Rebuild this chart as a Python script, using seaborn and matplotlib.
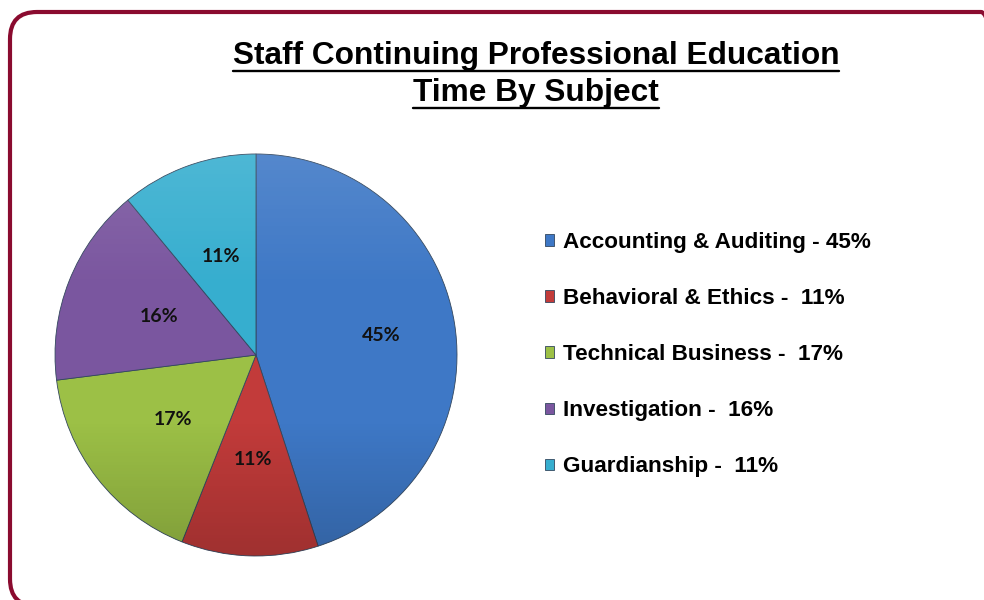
import matplotlib
matplotlib.use('Agg')
import numpy as np
import matplotlib.pyplot as plt
import seaborn as sns
from matplotlib.patches import FancyBboxPatch, Circle
from matplotlib.lines import Line2D
from matplotlib.colors import LinearSegmentedColormap

# data
subjects = ['Accounting & Auditing', 'Behavioral & Ethics', 'Technical Business',
            'Investigation', 'Guardianship']
shares = [45, 11, 17, 16, 11]
legend_labels = ['Accounting & Auditing - 45%', 'Behavioral & Ethics -  11%',
                 'Technical Business -  17%', 'Investigation -  16%', 'Guardianship -  11%']
slice_colors = ['#3e78c6', '#c23b3a', '#9cc046', '#7a569f', '#36aecf']
title_lines = ['Staff Continuing Professional Education', 'Time By Subject']

sns.set_theme(style='white')
plt.rcParams['font.family'] = ['Liberation Sans', 'DejaVu Sans']
plt.rcParams['text.color'] = 'black'
palette = sns.color_palette(slice_colors)

W, H = 984, 600
fig = plt.figure(figsize=(W / 100, H / 100), dpi=100)
fig.patch.set_facecolor('white')

# rounded maroon frame (runs past right/bottom edges)
frame = FancyBboxPatch((10 / 100, -6 / 100), 998 / 100, 594 / 100,
                       boxstyle='round,pad=0,rounding_size=0.27',
                       transform=fig.dpi_scale_trans, fill=False,
                       edgecolor='#8a0b2f', linewidth=3.0, zorder=0)
fig.patches.append(frame)

# pie
cx, cy, r = 256, 355, 201
ax = fig.add_axes([(cx - r) / W, (H - cy - r) / H, 2 * r / W, 2 * r / H])
wedges, texts, autotexts = ax.pie(
    shares, colors=palette, startangle=90, counterclock=False,
    autopct=lambda p: f'{p:.0f}%', pctdistance=0.52,
    wedgeprops=dict(edgecolor='#33475e', linewidth=0.6),
    textprops=dict(family=['Lato', 'DejaVu Sans'], weight='bold', size=14, color='#111111'))
ax.set_aspect('equal')
ax.axis('off')

# soft top-light / bottom-dark shading over the pie
shade = LinearSegmentedColormap.from_list(
    'shade', [(0, 0, 0, 0.18), (0, 0, 0, 0.0), (1, 1, 1, 0.0), (1, 1, 1, 0.12)])
grad = np.linspace(0, 1, 256).reshape(-1, 1)
img = ax.imshow(grad, cmap=shade, extent=(-1, 1, -1, 1), origin='lower',
                aspect='auto', zorder=2, interpolation='bilinear')
img.set_clip_path(Circle((0, 0), 1, transform=ax.transData))
for t in autotexts:
    t.set_zorder(3)

# the big slice carries its label further out
w0 = wedges[0]
mid = np.deg2rad((w0.theta1 + w0.theta2) / 2)
autotexts[0].set_position((0.63 * np.cos(mid), 0.63 * np.sin(mid)))
ax.set_xlim(-1, 1)
ax.set_ylim(-1, 1)

# legend
leg = fig.legend(wedges, legend_labels, loc='upper left',
                 bbox_to_anchor=(545 / W, 1 - 232 / H), frameon=False,
                 prop=dict(family='Liberation Sans', weight='bold', size=16.2),
                 handlelength=0.4, handleheight=0.4, handletextpad=0.4,
                 labelspacing=1.56, borderaxespad=0, borderpad=0)
for t in leg.get_texts():
    t.set_color('black')

# title with underline
baselines = [64, 101]
underlines = [71, 108]
title_texts = []
for line, b in zip(title_lines, baselines):
    t = fig.text(536 / W, 1 - b / H, line, ha='center', va='baseline',
                 fontsize=22.8, fontweight='bold', color='black')
    title_texts.append(t)

fig.canvas.draw()
renderer = fig.canvas.get_renderer()
for t, u in zip(title_texts, underlines):
    bb = t.get_window_extent(renderer)
    fig.add_artist(Line2D([bb.x0 / W, bb.x1 / W], [1 - u / H, 1 - u / H],
                          transform=fig.transFigure, color='black', linewidth=1.7))

fig.savefig('out.png', dpi=100)
